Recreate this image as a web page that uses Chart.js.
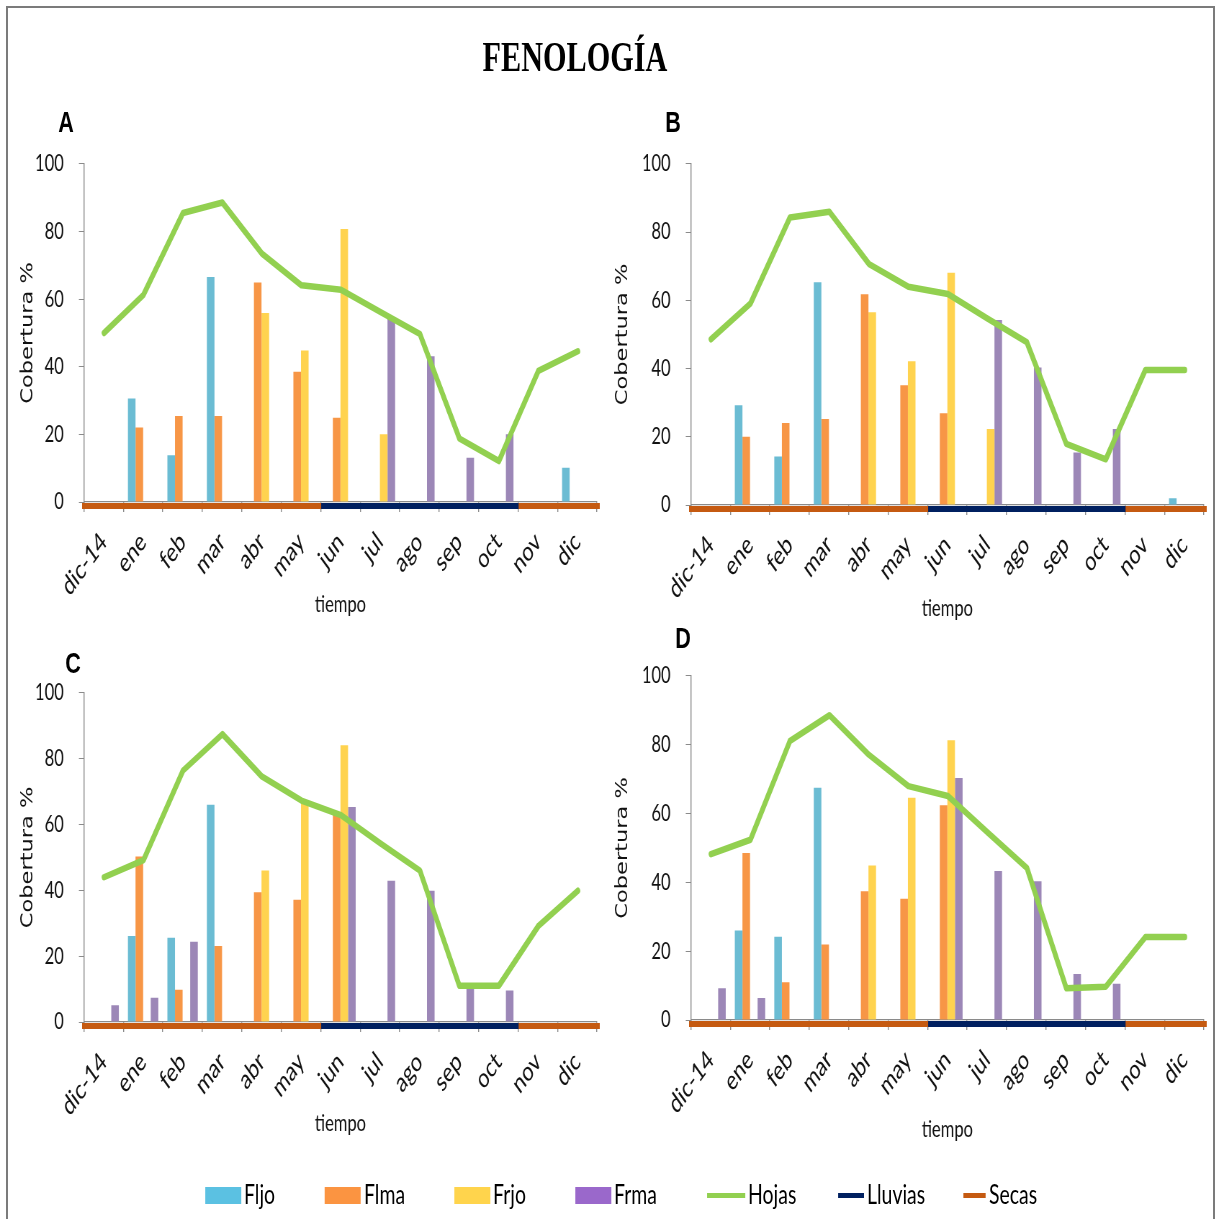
<!DOCTYPE html>
<html lang="es">
<head>
<meta charset="utf-8">
<title>Fenología</title>
<script src="https://cdn.jsdelivr.net/npm/chart.js@4.4.1/dist/chart.umd.min.js"></script>
<style>
  html, body { margin: 0; padding: 0; background: #fff; }
  body { width: 1216px; height: 1219px; overflow: hidden; position: relative; }
  #marco { position: absolute; left: 6px; top: 6px; width: 1209px; height: 1240px; border: 2px solid #7b7b7b; box-sizing: border-box; }
  #lienzo { position: absolute; left: 0; top: 0; width: 1689px; height: 1219px; transform: scaleX(0.72); transform-origin: 0 0; }
  #lienzo canvas { position: absolute; }
  .txt { position: absolute; white-space: nowrap; color: #000; }
  #titulo { font: bold 42px "Liberation Serif", "Times New Roman", serif; transform: translate(-50%, -50%); }
  .letra { font: bold 30px "Liberation Sans", Arial, sans-serif; transform: translate(-50%, -50%); }
  .ley { position: absolute; font: 27px Lato, sans-serif; line-height: 27px; }
  .muestra { position: absolute; }
</style>
</head>
<body>
<div id="marco"></div>
<div id="lienzo"></div>
<script>
// the figure is laid out narrow: everything inside #lienzo is squeezed horizontally
const ESCALA_X = 0.72

const meses = ['dic-14', 'ene', 'feb', 'mar', 'abr', 'may', 'jun', 'jul', 'ago', 'sep', 'oct', 'nov', 'dic']
const series = ['Fljo', 'Flma', 'Frjo', 'Frma']
const coloresSeries = ['#6bbcd3', '#f79646', '#ffd34f', '#9c87b7']
const coloresLeyenda = ['#5bc1e2', '#fb9441', '#ffd44c', '#9a68cb']
const colorHojas = '#92d050'
const colorLluvias = '#002060'
const colorSecas = '#c55a11'

// S = secas, L = lluvias
const temporada = ['S', 'S', 'S', 'S', 'S', 'S', 'L', 'L', 'L', 'L', 'L', 'S', 'S']

// A
const fljoA  = [0, 30.6, 13.8, 66.5, 0, 0, 0, 0, 0, 0, 0, 0, 10.1]
const flmaA  = [0, 22.0, 25.4, 25.4, 64.9, 38.5, 24.9, 0, 0, 0, 0, 0, 0]
const frjoA  = [0, 0, 0, 0, 55.9, 44.8, 80.7, 20.0, 0, 0, 0, 0, 0]
const frmaA  = [0, 0, 0, 0, 0, 0, 0, 54.2, 43.1, 13.1, 20.0, 0, 0]
const hojasA = [50.0, 61.3, 85.5, 88.6, 73.5, 64.1, 62.8, 56.2, 49.7, 18.8, 12.1, 38.8, 44.6]

// B
const fljoB  = [0, 29.2, 14.2, 65.3, 0, 0, 0, 0, 0, 0, 0, 0, 2.0]
const flmaB  = [0, 20.0, 24.0, 25.2, 61.8, 35.1, 26.9, 0, 0, 0, 0, 0, 0]
const frjoB  = [0, 0, 0, 0, 56.5, 42.1, 68.1, 22.3, 0, 0, 0, 0, 0]
const frmaB  = [0, 0, 0, 0, 0, 0, 0, 54.2, 40.3, 15.4, 22.3, 0, 0]
const hojasB = [48.6, 59.1, 84.3, 86.0, 70.7, 64.0, 61.9, 54.7, 47.7, 17.9, 13.4, 39.6, 39.6]

// C
const fljoC  = [0, 26.1, 25.6, 66.0, 0, 0, 0, 0, 0, 0, 0, 0, 0]
const flmaC  = [0, 50.3, 9.8, 23.1, 39.4, 37.1, 62.9, 0, 0, 0, 0, 0, 0]
const frjoC  = [0, 0, 0, 0, 46.0, 67.0, 84.1, 0, 0, 0, 0, 0, 0]
const frmaC  = [5.1, 7.4, 24.4, 0, 0, 0, 65.3, 42.9, 39.9, 10.5, 9.6, 0, 0]
const hojasC = [44.0, 49.2, 76.4, 87.5, 74.6, 67.3, 62.9, 54.3, 46.0, 11.0, 11.0, 29.2, 39.9]

// D
const fljoD  = [0, 26.0, 24.2, 67.5, 0, 0, 0, 0, 0, 0, 0, 0, 0]
const flmaD  = [0, 48.5, 11.0, 21.9, 37.4, 35.2, 62.4, 0, 0, 0, 0, 0, 0]
const frjoD  = [0, 0, 0, 0, 44.9, 64.6, 81.3, 0, 0, 0, 0, 0, 0]
const frmaD  = [9.2, 6.4, 0, 0, 0, 0, 70.3, 43.3, 40.3, 13.4, 10.5, 0, 0]
const hojasD = [48.2, 52.4, 81.1, 88.6, 77.1, 68.0, 65.1, 54.6, 44.2, 9.2, 9.7, 24.1, 24.1]

// plot boxes in page pixels (before the squeeze is undone)
const paneles = [
  { letra: 'A', barras: [fljoA, flmaA, frjoA, frmaA], hojas: hojasA,
    izq: 84, der: 597, arriba: 164, abajo: 502, ejeY: 76, tituloY: 56, tiempo: 103, letraX: 66, letraY: 122 },
  { letra: 'B', barras: [fljoB, flmaB, frjoB, frmaB], hojas: hojasB,
    izq: 691, der: 1204, arriba: 164, abajo: 505, ejeY: 86, tituloY: 68, tiempo: 104, letraX: 673, letraY: 122 },
  { letra: 'C', barras: [fljoC, flmaC, frjoC, frmaC], hojas: hojasC,
    izq: 84, der: 597, arriba: 693, abajo: 1022, ejeY: 76, tituloY: 56, tiempo: 102, letraX: 73, letraY: 663 },
  { letra: 'D', barras: [fljoD, flmaD, frjoD, frmaD], hojas: hojasD,
    izq: 691, der: 1204, arriba: 676, abajo: 1020, ejeY: 86, tituloY: 68, tiempo: 110, letraX: 683, letraY: 638 }
]

const GRIS = '#8a8a8a'
const MARGEN_SUP = 24
const ALTO_EJE_X = 128
const BORDE_LINEAS = 12
const lienzo = document.getElementById('lienzo')

function texto(cls, contenido, x, y) {
  const d = document.createElement('div')
  d.className = 'txt ' + cls
  d.textContent = contenido
  d.style.left = (x / ESCALA_X) + 'px'
  d.style.top = y + 'px'
  lienzo.appendChild(d)
  return d
}

function nuevoCanvas(ancho, alto) {
  const c = document.createElement('canvas')
  c.width = Math.round(ancho)
  c.height = Math.round(alto)
  lienzo.appendChild(c)
  return c
}

// grow the canvas if the layout ate into the plot box, then pin the plot box in place
function fijarArea(chart, p) {
  const altoPlot = p.abajo - p.arriba
  const anchoPlot = (p.der - p.izq) / ESCALA_X
  const area = chart.chartArea
  const faltaAlto = Math.round(altoPlot - (area.bottom - area.top))
  const faltaAncho = Math.round(anchoPlot - (area.right - area.left))
  if (faltaAlto || faltaAncho) chart.resize(chart.width + faltaAncho, chart.height + faltaAlto)
  chart.canvas.style.left = (p.izq / ESCALA_X - chart.chartArea.left) + 'px'
  chart.canvas.style.top = (p.arriba - chart.chartArea.top) + 'px'
}

// season band: points on the month boundaries 0..13
function tramo(tipo) {
  const puntos = []
  for (let b = 0; b <= meses.length; b++) {
    const dentro = temporada[b - 1] === tipo || temporada[b] === tipo
    puntos.push({ x: b, y: dentro ? 0 : null })
  }
  return puntos
}

const base = {
  responsive: false,
  maintainAspectRatio: false,
  animation: false,
  events: [],
  plugins: { legend: { display: false }, tooltip: { enabled: false } }
}

// bars, axes and axis titles
function crearBarras(p) {
  const anchoEje = p.ejeY / ESCALA_X
  const margenDer = 10 / ESCALA_X
  const altoPlot = p.abajo - p.arriba
  const anchoPlot = (p.der - p.izq) / ESCALA_X
  const canvas = nuevoCanvas(anchoPlot + anchoEje + margenDer, MARGEN_SUP + altoPlot + ALTO_EJE_X)
  const fuenteTiempo = 23
  const fuenteTitulo = 22.5

  const chart = new Chart(canvas, {
    type: 'bar',
    data: {
      labels: meses,
      datasets: series.map((nombre, i) => ({
        label: nombre,
        data: p.barras[i],
        backgroundColor: coloresSeries[i],
        borderWidth: 0,
        categoryPercentage: 0.77,
        barPercentage: 1
      }))
    },
    options: {
      ...base,
      layout: { padding: { top: MARGEN_SUP, right: margenDer, left: 0, bottom: 0 } },
      scales: {
        x: {
          grid: { offset: true, drawOnChartArea: false, tickLength: 10, color: GRIS, lineWidth: 1.4 },
          border: { color: GRIS, width: 1.2 },
          ticks: {
            autoSkip: false, minRotation: 45, maxRotation: 45, padding: 14,
            color: '#111', font: { family: 'Lato', size: 27 }
          },
          title: {
            display: true, text: 'tiempo', color: '#111',
            font: { family: 'Lato', size: fuenteTiempo },
            padding: { top: 0, bottom: ALTO_EJE_X - p.tiempo - fuenteTiempo * 0.6 }
          },
          afterFit: s => { s.height = ALTO_EJE_X }
        },
        y: {
          min: 0, max: 100,
          grid: { drawOnChartArea: false, tickLength: 7, color: GRIS, lineWidth: 1 },
          border: { color: GRIS, width: 1.4 },
          ticks: { stepSize: 20, padding: 21, color: '#111', font: { family: 'Lato', size: 23 } },
          title: {
            display: true, text: 'Cobertura %', color: '#111',
            font: { family: 'DejaVu Sans', size: fuenteTitulo },
            padding: { top: anchoEje - p.tituloY / ESCALA_X - fuenteTitulo * 0.6, bottom: 0 }
          },
          afterFit: s => { s.width = anchoEje }
        }
      }
    }
  })
  fijarArea(chart, p)
}

// leaf cover line and the season band, on a transparent canvas over the bars
function crearLineas(p) {
  const altoPlot = p.abajo - p.arriba
  const anchoPlot = (p.der - p.izq) / ESCALA_X
  const canvas = nuevoCanvas(anchoPlot + 2 * BORDE_LINEAS, altoPlot + 2 * BORDE_LINEAS)
  // band sits a few pixels under the zero line
  const bajada = 4 * 100 / altoPlot

  const chart = new Chart(canvas, {
    type: 'line',
    data: {
      labels: meses,
      datasets: [
        {
          label: 'Hojas', data: p.hojas,
          borderColor: colorHojas, borderWidth: 6.5, pointRadius: 0, tension: 0,
          borderJoinStyle: 'round', borderCapStyle: 'round'
        },
        {
          label: 'Lluvias', data: tramo('L'), xAxisID: 'xb', yAxisID: 'yb',
          borderColor: colorLluvias, borderWidth: 6, pointRadius: 0, spanGaps: false, clip: false
        },
        {
          label: 'Secas', data: tramo('S'), xAxisID: 'xb', yAxisID: 'yb', borderCapStyle: 'square',
          borderColor: colorSecas, borderWidth: 6, pointRadius: 0, spanGaps: false, clip: false
        }
      ]
    },
    options: {
      ...base,
      layout: { padding: BORDE_LINEAS },
      scales: {
        x: { type: 'category', offset: true, display: false },
        y: { min: 0, max: 100, display: false },
        xb: { type: 'linear', min: 0, max: meses.length, display: false, offset: false },
        yb: { type: 'linear', min: bajada, max: 100 + bajada, display: false }
      }
    }
  })
  fijarArea(chart, p)
}

const titulo = texto('', 'FENOLOGÍA', 575, 57)
titulo.id = 'titulo'

paneles.forEach(p => {
  crearBarras(p)
  crearLineas(p)
  texto('letra', p.letra, p.letraX, p.letraY)
})

// legend along the bottom
const leyendaX = [205, 325, 454, 575, 707, 838, 963]
const leyendaY = 1195
const entradas = [
  ...series.map((s, i) => ({ nombre: s, color: coloresLeyenda[i], linea: false, ancho: 36 })),
  { nombre: 'Hojas', color: colorHojas, linea: true, ancho: 38 },
  { nombre: 'Lluvias', color: colorLluvias, linea: true, ancho: 26 },
  { nombre: 'Secas', color: colorSecas, linea: true, ancho: 23 }
]
entradas.forEach((e, i) => {
  const x = leyendaX[i]
  const m = document.createElement('div')
  m.className = 'muestra'
  const alto = e.linea ? 5 : 17
  m.style.left = (x / ESCALA_X) + 'px'
  m.style.width = (e.ancho / ESCALA_X) + 'px'
  m.style.top = (leyendaY - alto / 2) + 'px'
  m.style.height = alto + 'px'
  m.style.background = e.color
  lienzo.appendChild(m)

  const t = document.createElement('div')
  t.className = 'ley'
  t.textContent = e.nombre
  t.style.left = ((x + e.ancho + 3) / ESCALA_X) + 'px'
  t.style.top = (leyendaY - 15) + 'px'
  lienzo.appendChild(t)
})
</script>
</body>
</html>
